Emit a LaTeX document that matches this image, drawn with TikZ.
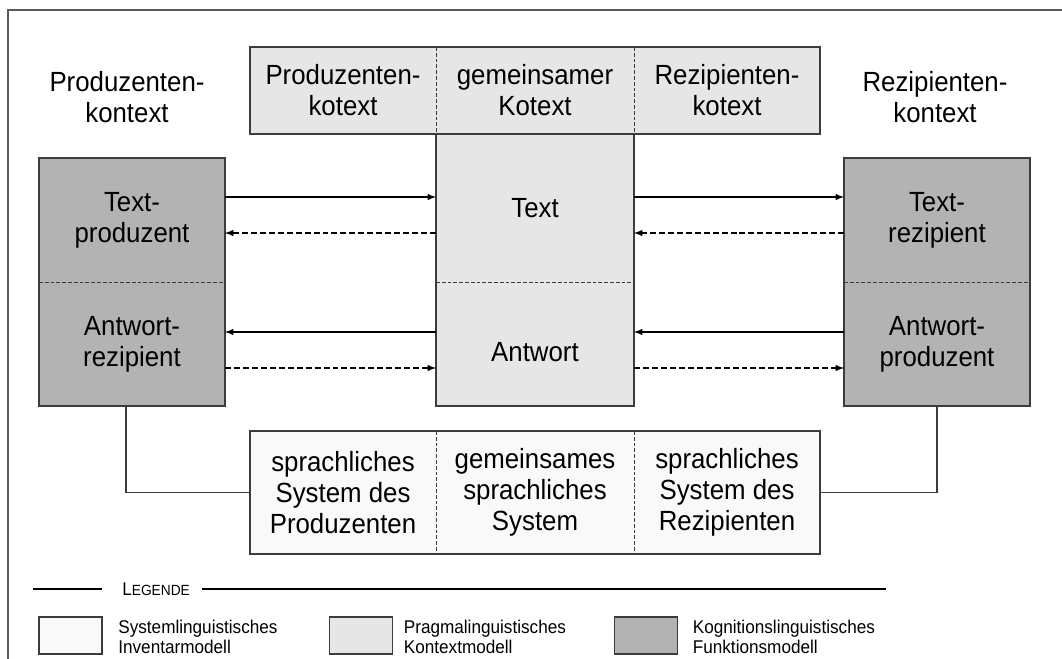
\documentclass[tikz,border=0pt]{standalone}
\usepackage{fontspec}
\setmainfont{Liberation Sans}[FakeStretch=0.93]
\usetikzlibrary{positioning}

\definecolor{kogn}{RGB}{179,179,179}
\definecolor{pragma}{RGB}{230,230,230}
\definecolor{inventar}{RGB}{249,249,249}
\definecolor{rim}{RGB}{60,60,60}

\begin{document}
\begin{tikzpicture}[x=0.02cm, y=-0.02cm, font=\fontsize{15.8}{17.6}\selectfont,
  cell/.style = {inner sep=0pt, outer sep=0pt, align=center},
  rahmen/.style = {draw=rim, line width=0.85pt},
  trenner/.style = {draw=rim, line width=0.5pt, dash pattern=on 2.2pt off 1.1pt},
  legtext/.style = {inner sep=0pt, align=left, yshift=-0.03cm, font=\fontsize{10.5}{11}\selectfont}]
\useasboundingbox (0,0) rectangle (1062,659);
\draw[rim!85, line width=0.85pt] (8,659) -- (8,10) -- (1062,10);

% Kontexte
\node[align=center] (prod_ctx) at (127,97) {Produzenten-\\kontext};
\node[align=center] (rez_ctx) at (935,97) {Rezipienten-\\kontext};

% Kotext
\node[cell, fill=pragma, minimum width=3.72cm, minimum height=1.74cm] (kot_prod) at (343,90.5) {Produzenten-\\kotext};
\node[cell, fill=pragma, minimum width=3.96cm, minimum height=1.74cm] (kot_gem) at (535,90.5) {gemeinsamer\\Kotext};
\node[cell, fill=pragma, minimum width=3.72cm, minimum height=1.74cm] (kot_rez) at (727,90.5) {Rezipienten-\\kotext};

% Text / Antwort
\node[cell, fill=pragma, minimum width=3.96cm, minimum height=2.96cm] (text) at (535,208) {Text};
\node[cell, fill=pragma, minimum width=3.96cm, minimum height=2.48cm] (antwort) at (535,344) {};
\node[inner sep=0pt] (antwort_lbl) at ([yshift=-0.16cm]antwort.center) {Antwort};

% Produzent / Rezipient
\node[cell, fill=kogn, minimum width=3.72cm, minimum height=2.48cm] (text_prod) at (132,220) {Text-\\produzent};
\node[cell, fill=kogn, minimum width=3.72cm, minimum height=2.48cm] (antwort_rez) at (132,344) {Antwort-\\rezipient};
\node[cell, fill=kogn, minimum width=3.72cm, minimum height=2.48cm] (text_rez) at (937,220) {Text-\\rezipient};
\node[cell, fill=kogn, minimum width=3.72cm, minimum height=2.48cm] (antwort_prod) at (937,344) {Antwort-\\produzent};

% sprachliche Systeme
\node[cell, fill=inventar, minimum width=3.72cm, minimum height=2.46cm] (sys_prod) at (343,492.5) {sprachliches\\System des\\Produzenten};
\node[cell, fill=inventar, minimum width=3.96cm, minimum height=2.46cm] (sys_gem) at (535,492.5) {gemeinsames\\sprachliches\\System};
\node[cell, fill=inventar, minimum width=3.72cm, minimum height=2.46cm] (sys_rez) at (727,492.5) {sprachliches\\System des\\Rezipienten};

\draw[rahmen] (kot_prod.north west) rectangle (kot_rez.south east);
\draw[rahmen] (text.north west) rectangle (antwort.south east);
\draw[rahmen] (text_prod.north west) rectangle (antwort_rez.south east);
\draw[rahmen] (text_rez.north west) rectangle (antwort_prod.south east);
\draw[rahmen] (sys_prod.north west) rectangle (sys_rez.south east);

\draw[trenner] (kot_prod.north east) -- (kot_prod.south east);
\draw[trenner] (kot_gem.north east) -- (kot_gem.south east);
\draw[trenner] (text.south west) -- (text.south east);
\draw[trenner] (text_prod.south west) -- (text_prod.south east);
\draw[trenner] (text_rez.south west) -- (text_rez.south east);
\draw[trenner] (sys_prod.north east) -- (sys_prod.south east);
\draw[trenner] (sys_gem.north east) -- (sys_gem.south east);

\draw[rim, line width=0.85pt] ([xshift=-0.12cm]antwort_rez.south) |- (sys_prod.west);
\draw[rim, line width=0.85pt] (antwort_prod.south) |- (sys_rez.east);

% Pfeile
\coordinate (row1) at (0,197);
\coordinate (row2) at (0,233);
\coordinate (row3) at (0,332);
\coordinate (row4) at (0,368);
\begin{scope}[line width=0.65pt, -latex]
\draw (text_prod.east |- row1) -- (text.west |- row1);
\draw[dash pattern=on 3.4pt off 1.7pt] (text.west |- row2) -- (text_prod.east |- row2);
\draw (text.east |- row1) -- (text_rez.west |- row1);
\draw[dash pattern=on 3.4pt off 1.7pt] (text_rez.west |- row2) -- (text.east |- row2);
\draw (antwort.west |- row3) -- (antwort_rez.east |- row3);
\draw[dash pattern=on 3.4pt off 1.7pt] (antwort_rez.east |- row4) -- (antwort.west |- row4);
\draw (antwort_prod.west |- row3) -- (antwort.east |- row3);
\draw[dash pattern=on 3.4pt off 1.7pt] (antwort.east |- row4) -- (antwort_prod.west |- row4);
\end{scope}

% Legende
\coordinate (leg_l) at (33,589);
\coordinate (leg_r) at (886,589);
\node[inner sep=0pt, anchor=west] (legende) at (122,589) {\fontsize{10.5}{11}\selectfont L\fontsize{8.4}{11}\selectfont EGENDE};
\draw[line width=0.6pt] (leg_l) -- ([xshift=-0.4cm]legende.west);
\draw[line width=0.6pt] ([xshift=0.24cm]legende.east) -- (leg_r);

\node[cell, rahmen, fill=inventar, minimum width=1.26cm, minimum height=0.74cm] (leg_inv) at (70.5,635.5) {};
\node[legtext, right=0.32cm of leg_inv] (leg_inv_txt) {Systemlinguistisches\\Inventarmodell};
\node[cell, rahmen, fill=pragma, minimum width=1.26cm, minimum height=0.74cm] (leg_ktx) at (361,635.5) {};
\node[legtext, right=0.22cm of leg_ktx] (leg_ktx_txt) {Pragmalinguistisches\\Kontextmodell};
\node[cell, rahmen, fill=kogn, minimum width=1.26cm, minimum height=0.74cm] (leg_fkt) at (646,635.5) {};
\node[legtext, right=0.3cm of leg_fkt] (leg_fkt_txt) {Kognitionslinguistisches\\Funktionsmodell};
\end{tikzpicture}
\end{document}
